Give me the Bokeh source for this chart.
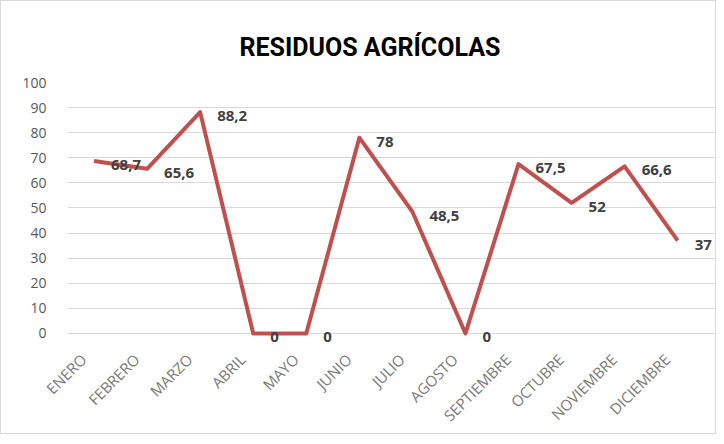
from bokeh.plotting import figure
from bokeh.models import Range1d, FixedTicker, ColumnDataSource, LabelSet, LinearAxis
from bokeh.embed import file_html
from bokeh.resources import INLINE
from bokeh.core.properties import value
import math

months = ["ENERO", "FEBRERO", "MARZO", "ABRIL", "MAYO", "JUNIO", "JULIO",
          "AGOSTO", "SEPTIEMBRE", "OCTUBRE", "NOVIEMBRE", "DICIEMBRE"]
values = [68.7, 65.6, 88.2, 0, 0, 78, 48.5, 0, 67.5, 52, 66.6, 37]
labels = ["68,7", "65,6", "88,2", "0", "0", "78", "48,5", "0", "67,5", "52", "66,6", "37"]
y_ticks = [0, 10, 20, 30, 40, 50, 60, 70, 80, 90, 100]
title_text = "RESIDUOS AGRÍCOLAS"

xs = list(range(len(months)))
src = ColumnDataSource(dict(x=xs, y=values, lab=labels))

x0, x1 = -0.5, len(months) - 0.25
shift = 0.2
p = figure(width=716, height=434, output_backend="svg", toolbar_location=None,
           x_range=Range1d(x0, x1), y_range=Range1d(-6, 100),
           min_border_left=66, min_border_right=0, min_border_top=81, min_border_bottom=83)
p.extra_x_ranges = {"lab": Range1d(x0 + shift, x1 + shift)}
p.styles = {"border": "1px solid #d9d9d9"}
p.outline_line_color = None
p.background_fill_color = "white"
p.border_fill_color = "white"

p.title.text = title_text
p.title.align = "left"
p.title.offset = 172
p.title.text_font = "Roboto"
p.title.text_font_style = "bold"
p.title.text_font_size = "25px"
p.title.text_color = "#000000"
p.title.standoff = 42

p.line("x", "y", source=src, line_color="#c0504d", line_width=4, line_join="round")

p.add_layout(LabelSet(x="x", y="y", text="lab", source=src, x_offset=17, y_offset=-4,
                      text_align="left", text_baseline="middle",
                      text_font=value("Open Sans"), text_font_style="bold",
                      text_font_size="15px", text_color="#404040"))

p.xaxis.visible = False
xax = LinearAxis(x_range_name="lab")
xax.ticker = FixedTicker(ticks=xs)
xax.major_label_overrides = {i: m for i, m in enumerate(months)}
xax.major_label_orientation = math.pi / 4
xax.major_label_text_font = "Open Sans"
xax.major_label_text_font_size = "15px"
xax.major_label_text_color = "#7a7a7a"
xax.axis_line_color = None
xax.major_tick_line_color = None
xax.minor_tick_line_color = None
xax.major_label_standoff = 2
p.add_layout(xax, "below")

p.yaxis.ticker = FixedTicker(ticks=y_ticks)
p.yaxis.major_label_text_font = "Open Sans"
p.yaxis.major_label_text_font_size = "14px"
p.yaxis.major_label_text_color = "#595959"
p.yaxis.axis_line_color = None
p.yaxis.major_tick_line_color = None
p.yaxis.minor_tick_line_color = None
p.yaxis.major_label_standoff = 15

p.xgrid.grid_line_color = None
p.ygrid.grid_line_color = "#d9d9d9"
p.ygrid.grid_line_width = 1

open("out.html", "w").write(file_html(p, INLINE))
